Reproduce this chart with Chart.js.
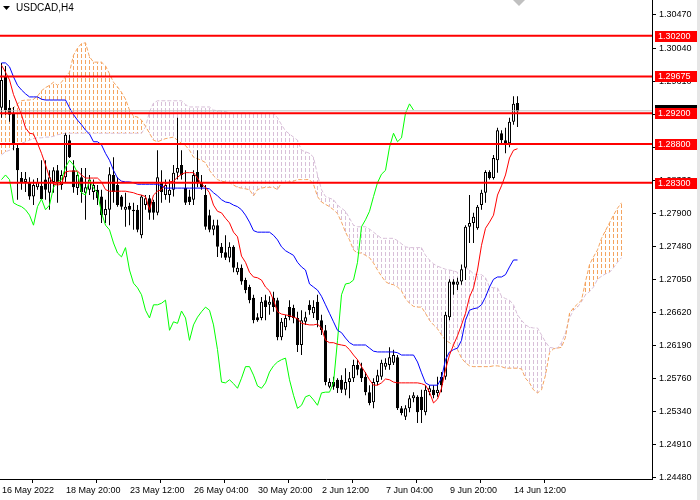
<!DOCTYPE html>
<html>
<head>
<meta charset="utf-8">
<script src="https://cdn.jsdelivr.net/npm/chart.js@4.4.0/dist/chart.umd.min.js"></script>
<style>
  html, body { margin: 0; padding: 0; background: #fff; }
  canvas { display: block; }
</style>
</head>
<body>
<canvas id="chart" width="700" height="500"></canvas>
<script>
const symbolTitle = 'USDCAD,H4';
const dateTicks = ['16 May 2022', '18 May 20:00', '23 May 12:00', '26 May 04:00', '30 May 20:00',
  '2 Jun 12:00', '7 Jun 04:00', '9 Jun 20:00', '14 Jun 12:00'];
const barsPerDateTick = 16;
const yTickLabels = ['1.24480', '1.24910', '1.25340', '1.25760', '1.26190', '1.26620', '1.27050', '1.27480',
  '1.27900', '1.28330', '1.28760', '1.29180', '1.29610', '1.30040', '1.30470'];
const levels = [1.30200, 1.29675, 1.29200, 1.28800, 1.28300];
const bidPrice = 1.2923;

// H4 candles
const open = [
  1.2927,1.2967,1.2927,1.2920,1.2875,1.2836,1.2831,1.2831,1.2812,1.2824,
  1.2826,1.2834,1.2817,1.2831,1.2846,1.2827,1.2837,1.2885,1.2846,1.2823,
  1.2837,1.2817,1.2821,1.2818,1.2821,1.2812,1.2788,1.2795,1.2840,1.2827,
  1.2812,1.2795,1.2800,1.2793,1.2795,1.2762,1.2801,1.2810,1.2805,1.2791,
  1.2831,1.2814,1.2814,1.2821,1.2843,1.2853,1.2823,1.2812,1.2808,1.2844,
  1.2831,1.2814,1.2788,1.2769,1.2775,1.2747,1.2740,1.2733,1.2747,1.2714,
  1.2720,1.2704,1.2695,1.2681,1.2656,1.2655,1.2678,1.2672,1.2681,1.2678,
  1.2630,1.2643,1.2669,1.2668,1.2655,1.2620,1.2650,1.2672,1.2661,1.2676,
  1.2652,1.2639,1.2566,1.2572,1.2575,1.2575,1.2562,1.2572,1.2577,1.2594,
  1.2590,1.2579,1.2559,1.2546,1.2572,1.2579,1.2592,1.2594,1.2597,1.2604,
  1.2538,1.2527,1.2538,1.2551,1.2553,1.2553,1.2533,1.2559,1.2562,1.2558,
  1.2579,1.2579,1.2656,1.2702,1.2698,1.2702,1.2720,1.2773,1.2778,1.2771,
  1.2801,1.2817,1.2844,1.2836,1.2859,1.2894,1.2885,1.2881,1.2909,1.2933
];
const high = [
  1.2985,1.2981,1.2937,1.2928,1.2881,1.2844,1.2844,1.2837,1.2834,1.2836,
  1.2859,1.2859,1.2846,1.2850,1.2853,1.2846,1.2894,1.2892,1.2859,1.2844,
  1.2849,1.2849,1.2840,1.2834,1.2827,1.2821,1.2808,1.2850,1.2863,1.2837,
  1.2814,1.2817,1.2804,1.2804,1.2801,1.2814,1.2814,1.2814,1.2808,1.2872,
  1.2846,1.2834,1.2834,1.2853,1.2914,1.2872,1.2846,1.2821,1.2846,1.2872,
  1.2840,1.2827,1.2795,1.2782,1.2782,1.2752,1.2762,1.2753,1.2749,1.2727,
  1.2724,1.2707,1.2698,1.2685,1.2661,1.2682,1.2685,1.2683,1.2689,1.2681,
  1.2655,1.2659,1.2678,1.2672,1.2663,1.2665,1.2663,1.2678,1.2678,1.2685,
  1.2659,1.2646,1.2577,1.2579,1.2577,1.2581,1.2590,1.2585,1.2601,1.2601,
  1.2597,1.2585,1.2568,1.2577,1.2588,1.2601,1.2603,1.2617,1.2614,1.2607,
  1.2541,1.2542,1.2555,1.2559,1.2555,1.2562,1.2568,1.2568,1.2568,1.2579,
  1.2585,1.2663,1.2705,1.2705,1.2707,1.2724,1.2775,1.2814,1.2791,1.2801,
  1.2821,1.2846,1.2846,1.2866,1.2901,1.2898,1.2901,1.2914,1.2942,1.2942
];
const low = [
  1.2914,1.2918,1.2909,1.2872,1.2808,1.2821,1.2818,1.2808,1.2801,1.2821,
  1.2808,1.2808,1.2795,1.2817,1.2804,1.2821,1.2830,1.2862,1.2817,1.2814,
  1.2804,1.2782,1.2814,1.2808,1.2801,1.2778,1.2778,1.2775,1.2804,1.2799,
  1.2795,1.2773,1.2775,1.2769,1.2766,1.2758,1.2795,1.2782,1.2782,1.2788,
  1.2804,1.2808,1.2804,1.2812,1.2834,1.2834,1.2801,1.2801,1.2801,1.2824,
  1.2821,1.2769,1.2766,1.2762,1.2734,1.2733,1.2730,1.2727,1.2714,1.2711,
  1.2698,1.2687,1.2674,1.2648,1.2650,1.2652,1.2652,1.2659,1.2663,1.2626,
  1.2626,1.2639,1.2652,1.2648,1.2611,1.2607,1.2646,1.2659,1.2655,1.2643,
  1.2633,1.2568,1.2564,1.2562,1.2558,1.2558,1.2555,1.2551,1.2572,1.2581,
  1.2572,1.2555,1.2542,1.2538,1.2568,1.2575,1.2588,1.2588,1.2594,1.2536,
  1.2529,1.2523,1.2533,1.2546,1.2519,1.2519,1.2529,1.2555,1.2551,1.2553,
  1.2559,1.2575,1.2652,1.2685,1.2691,1.2698,1.2704,1.2752,1.2752,1.2769,
  1.2795,1.2804,1.2834,1.2834,1.2843,1.2879,1.2868,1.2876,1.2905,1.2902
];
const close = [
  1.2963,1.2924,1.2918,1.2881,1.2846,1.2831,1.2835,1.2812,1.2827,1.2831,
  1.2809,1.2821,1.2837,1.2846,1.2831,1.2840,1.2892,1.2863,1.2824,1.2840,
  1.2818,1.2824,1.2834,1.2827,1.2810,1.2788,1.2796,1.2841,1.2818,1.2801,
  1.2799,1.2799,1.2795,1.2795,1.2769,1.2812,1.2810,1.2791,1.2791,1.2837,
  1.2818,1.2827,1.2821,1.2843,1.2849,1.2840,1.2804,1.2805,1.2840,1.2830,
  1.2824,1.2773,1.2769,1.2775,1.2747,1.2739,1.2733,1.2747,1.2720,1.2720,
  1.2702,1.2691,1.2678,1.2652,1.2652,1.2676,1.2669,1.2676,1.2669,1.2630,
  1.2650,1.2655,1.2656,1.2655,1.2620,1.2652,1.2656,1.2665,1.2669,1.2652,
  1.2639,1.2572,1.2572,1.2566,1.2564,1.2562,1.2572,1.2577,1.2594,1.2588,
  1.2577,1.2559,1.2545,1.2572,1.2581,1.2597,1.2597,1.2604,1.2607,1.2538,
  1.2532,1.2538,1.2551,1.2555,1.2533,1.2536,1.2562,1.2564,1.2555,1.2562,
  1.2568,1.2659,1.2702,1.2698,1.2702,1.2718,1.2773,1.2778,1.2786,1.2799,
  1.2817,1.2844,1.2836,1.2862,1.2898,1.2885,1.2881,1.2909,1.2932,1.2922
];

// Ichimoku lines
const tenkan = [
  1.2982,1.2973,1.2963,1.2944,1.2931,1.2918,1.2901,1.2894,1.2893,1.2881,
  1.2868,1.2853,1.2837,1.2828,1.2827,1.2828,1.2844,1.2845,1.2845,1.2845,
  1.2840,1.2836,1.2836,1.2836,1.2836,1.2831,1.2821,1.2819,1.2819,1.2819,
  1.2819,1.2819,1.2818,1.2817,1.2815,1.2814,1.2812,1.2795,1.2814,1.2819,
  1.2821,1.2828,1.2831,1.2832,1.2837,1.2841,1.2843,1.2843,1.2843,1.2836,
  1.2828,1.2824,1.2817,1.2801,1.2793,1.2791,1.2784,1.2778,1.2766,1.2760,
  1.2735,1.2727,1.2714,1.2708,1.2707,1.2704,1.2695,1.2690,1.2678,1.2663,
  1.2660,1.2659,1.2658,1.2656,1.2654,1.2648,1.2647,1.2646,1.2646,1.2647,
  1.2642,1.2626,1.2623,1.2623,1.2621,1.2620,1.2619,1.2614,1.2607,1.2601,
  1.2592,1.2584,1.2575,1.2568,1.2568,1.2571,1.2576,1.2575,1.2572,1.2571,
  1.2571,1.2571,1.2571,1.2571,1.2571,1.2570,1.2568,1.2559,1.2545,1.2550,
  1.2564,1.2588,1.2607,1.2620,1.2632,1.2646,1.2661,1.2682,1.2694,1.2717,
  1.2749,1.2771,1.2779,1.2788,1.2814,1.2826,1.2840,1.2862,1.2872,1.2874
];
const kijun = [
  1.2985,1.2985,1.2980,1.2967,1.2956,1.2950,1.2945,1.2941,1.2941,1.2941,
  1.2938,1.2937,1.2937,1.2937,1.2937,1.2937,1.2937,1.2927,1.2918,1.2911,
  1.2905,1.2898,1.2893,1.2883,1.2883,1.2879,1.2868,1.2859,1.2846,1.2836,
  1.2832,1.2831,1.2831,1.2830,1.2828,1.2828,1.2828,1.2828,1.2828,1.2828,
  1.2826,1.2823,1.2823,1.2823,1.2823,1.2823,1.2823,1.2823,1.2823,1.2823,
  1.2823,1.2823,1.2822,1.2817,1.2813,1.2808,1.2805,1.2804,1.2801,1.2799,
  1.2795,1.2788,1.2779,1.2768,1.2766,1.2766,1.2766,1.2766,1.2762,1.2756,
  1.2747,1.2742,1.2739,1.2736,1.2727,1.2721,1.2717,1.2699,1.2695,1.2691,
  1.2683,1.2672,1.2661,1.2650,1.2639,1.2636,1.2629,1.2623,1.2620,1.2620,
  1.2620,1.2620,1.2616,1.2612,1.2611,1.2611,1.2611,1.2611,1.2611,1.2610,
  1.2607,1.2607,1.2607,1.2607,1.2598,1.2584,1.2571,1.2568,1.2568,1.2568,
  1.2577,1.2601,1.2611,1.2614,1.2616,1.2626,1.2652,1.2665,1.2667,1.2668,
  1.2672,1.2682,1.2695,1.2705,1.2708,1.2708,1.2711,1.2721,1.2730,1.2730
];
const chikou = [
  1.2834,1.2840,1.2834,1.2804,1.2801,1.2799,1.2795,1.2788,1.2775,1.2799,
  1.2809,1.2795,1.2801,1.2824,1.2831,1.2834,1.2850,1.2859,1.2853,1.2843,
  1.2817,1.2814,1.2834,1.2823,1.2817,1.2791,1.2775,1.2769,1.2752,1.2739,
  1.2734,1.2746,1.2717,1.2700,1.2694,1.2685,1.2665,1.2655,1.2672,1.2672,
  1.2674,1.2678,1.2639,1.2650,1.2648,1.2664,1.2655,1.2626,1.2646,1.2656,
  1.2663,1.2669,1.2665,1.2646,1.2614,1.2572,1.2571,1.2575,1.2570,1.2564,
  1.2577,1.2592,1.2592,1.2581,1.2567,1.2564,1.2571,1.2585,1.2593,1.2598,
  1.2601,1.2603,1.2575,1.2555,1.2538,1.2542,1.2553,1.2555,1.2549,1.2542,
  1.2558,1.2559,1.2559,1.2571,1.2626,1.2685,1.2699,1.2700,1.2704,1.2727,
  1.2773,1.2782,1.2793,1.2812,1.2830,1.2841,1.2846,1.2876,1.2894,1.2883,
  1.2888,1.2920,1.2932,1.2924
];
const spanA = [
  1.2918,1.2922,1.2924,1.2927,1.2932,1.2936,1.2937,1.2937,1.2938,1.2942,
  1.2949,1.2953,1.2956,1.2960,1.2956,1.2960,1.2967,1.2973,1.2995,1.3004,
  1.3010,1.3011,1.2993,1.2986,1.2986,1.2986,1.2981,1.2971,1.2960,1.2954,
  1.2947,1.2938,1.2924,1.2916,1.2915,1.2911,1.2903,1.2894,1.2885,1.2883,
  1.2885,1.2887,1.2888,1.2889,1.2885,1.2881,1.2878,1.2872,1.2863,1.2861,
  1.2859,1.2856,1.2846,1.2839,1.2834,1.2832,1.2831,1.2830,1.2827,1.2824,
  1.2823,1.2822,1.2821,1.2813,1.2821,1.2823,1.2824,1.2824,1.2824,1.2821,
  1.2830,1.2830,1.2831,1.2832,1.2834,1.2834,1.2834,1.2834,1.2828,1.2812,
  1.2805,1.2802,1.2799,1.2795,1.2790,1.2779,1.2766,1.2756,1.2743,1.2739,
  1.2739,1.2736,1.2733,1.2726,1.2717,1.2709,1.2702,1.2699,1.2698,1.2695,
  1.2690,1.2680,1.2674,1.2670,1.2669,1.2669,1.2661,1.2652,1.2646,1.2641,
  1.2633,1.2626,1.2623,1.2619,1.2614,1.2603,1.2597,1.2593,1.2592,1.2592,
  1.2592,1.2592,1.2592,1.2593,1.2593,1.2592,1.2590,1.2590,1.2590,1.2590,
  1.2589,1.2577,1.2571,1.2562,1.2558,1.2562,1.2581,1.2610,1.2615,1.2616,
  1.2617,1.2630,1.2661,1.2668,1.2673,1.2678,1.2702,1.2724,1.2734,1.2743,
  1.2758,1.2768,1.2778,1.2788,1.2797,1.2804
];
const spanB = [
  1.2866,1.2870,1.2872,1.2875,1.2879,1.2881,1.2883,1.2885,1.2887,1.2888,
  1.2888,1.2889,1.2889,1.2890,1.2892,1.2893,1.2894,1.2894,1.2894,1.2894,
  1.2894,1.2894,1.2894,1.2894,1.2894,1.2894,1.2894,1.2894,1.2894,1.2894,
  1.2894,1.2894,1.2894,1.2894,1.2894,1.2894,1.2902,1.2922,1.2933,1.2936,
  1.2936,1.2936,1.2936,1.2936,1.2936,1.2936,1.2931,1.2928,1.2928,1.2928,
  1.2928,1.2928,1.2928,1.2924,1.2923,1.2923,1.2922,1.2920,1.2920,1.2920,
  1.2920,1.2920,1.2920,1.2920,1.2920,1.2920,1.2920,1.2920,1.2920,1.2914,
  1.2905,1.2897,1.2893,1.2889,1.2885,1.2872,1.2870,1.2868,1.2863,1.2840,
  1.2821,1.2812,1.2810,1.2808,1.2801,1.2797,1.2793,1.2784,1.2775,1.2773,
  1.2773,1.2773,1.2770,1.2766,1.2762,1.2758,1.2758,1.2758,1.2758,1.2755,
  1.2751,1.2747,1.2746,1.2746,1.2746,1.2746,1.2736,1.2730,1.2725,1.2722,
  1.2720,1.2718,1.2717,1.2716,1.2714,1.2716,1.2720,1.2717,1.2712,1.2711,
  1.2711,1.2707,1.2695,1.2694,1.2694,1.2683,1.2680,1.2678,1.2672,1.2659,
  1.2652,1.2646,1.2643,1.2642,1.2642,1.2633,1.2624,1.2617,1.2616,1.2616,
  1.2623,1.2636,1.2655,1.2665,1.2669,1.2676,1.2685,1.2689,1.2695,1.2705,
  1.2709,1.2712,1.2714,1.2720,1.2727,1.2733
];

const totalBars = 163;
const xMin = -0.375;
const xMax = xMin + totalBars;
const cloudUpColor = '#f4a460';
const cloudDownColor = '#d8bfd8';

function points(arr) {
  return arr.map((v, i) => ({ x: i, y: v }));
}

// dashed vertical hatch anchored to the canvas, like the MT4 cloud histogram
function hatch(color) {
  const c = document.createElement('canvas');
  c.width = 1;
  c.height = 6;
  const g = c.getContext('2d');
  g.fillStyle = color;
  g.fillRect(0, 0, 1, 4);
  return g.createPattern(c, 'repeat');
}

const bodies = open.map((o, i) => ({ x: i, y: [o, close[i]] }));
const wicks = low.map((l, i) => ({ x: i, y: [l, high[i]] }));
const bodyColors = open.map((o, i) => close[i] >= o ? '#ffffff' : '#000000');

const cloudUp = [];
const cloudDown = [];
spanA.forEach((a, i) => {
  const b = spanB[i];
  (a >= b ? cloudUp : cloudDown).push({ x: i, y: [a, b] });
});

const fontFamily = '"Liberation Sans", Arial, sans-serif';

const levelSets = levels.map(l => ({
  type: 'line',
  data: [{ x: xMin, y: l }, { x: xMax, y: l }],
  borderColor: '#ff0000',
  borderWidth: 2,
  order: 0
}));

const overlay = {
  id: 'overlay',
  afterDraw(chart) {
    const { ctx, scales: { x, y } } = chart;
    ctx.save();
    ctx.fillStyle = '#000';
    ctx.beginPath();
    ctx.moveTo(3, 6); ctx.lineTo(10, 6); ctx.lineTo(6.5, 10); ctx.closePath();
    ctx.fill();
    ctx.font = '10px ' + fontFamily;
    ctx.textBaseline = 'middle';
    ctx.fillText(symbolTitle, 16, 8);

    // chart shift marker above the last bar
    const sx = Math.round(x.getPixelForValue(open.length - 1)) + 1;
    ctx.fillStyle = '#c0c0c0';
    ctx.beginPath();
    ctx.moveTo(sx - 6, 0); ctx.lineTo(sx + 6, 0); ctx.lineTo(sx, 6); ctx.closePath();
    ctx.fill();

    // price labels on the right axis
    const by = Math.round(y.getPixelForValue(bidPrice));
    ctx.fillStyle = '#000';
    ctx.fillRect(655, by - 6, 42, 11);
    ctx.font = '9px ' + fontFamily;
    levels.forEach(l => {
      const py = Math.round(y.getPixelForValue(l));
      ctx.fillStyle = '#ff0000';
      ctx.fillRect(655, py - 5, 42, 11);
      ctx.fillStyle = '#ffffff';
      ctx.fillText(l.toFixed(5), 658, py + 0.5);
    });

    ctx.fillStyle = '#e6e6e6';
    ctx.fillRect(697, 0, 3, 500);
    ctx.restore();
  }
};

const ctx = document.getElementById('chart').getContext('2d');
new Chart(ctx, {
  type: 'bar',
  data: {
    datasets: [
      ...levelSets,
      { type: 'line', data: [{ x: xMin, y: bidPrice }, { x: xMax, y: bidPrice }], borderColor: '#c0c0c0', order: 1 },
      { type: 'line', data: points(tenkan), borderColor: '#ff0000', order: 2 },
      { type: 'line', data: points(kijun), borderColor: '#0000ff', order: 2 },
      { type: 'line', data: points(chikou), borderColor: '#00ff00', order: 2 },
      { type: 'bar', data: bodies, backgroundColor: bodyColors, borderColor: '#000', borderWidth: 1,
        borderSkipped: false, barThickness: 3, grouped: false, inflateAmount: 0, order: 3 },
      { type: 'bar', data: wicks, backgroundColor: '#000', borderWidth: 0,
        barThickness: 1, grouped: false, inflateAmount: 0, order: 4 },
      { type: 'line', data: points(spanA), borderColor: cloudUpColor, borderDash: [4, 2], order: 5 },
      { type: 'line', data: points(spanB), borderColor: cloudDownColor, borderDash: [4, 2], order: 5 },
      { type: 'bar', data: cloudUp, backgroundColor: hatch(cloudUpColor), borderWidth: 0,
        barThickness: 1, grouped: false, inflateAmount: 0, order: 6 },
      { type: 'bar', data: cloudDown, backgroundColor: hatch(cloudDownColor), borderWidth: 0,
        barThickness: 1, grouped: false, inflateAmount: 0, order: 6 }
    ]
  },
  options: {
    responsive: false,
    animation: false,
    devicePixelRatio: 1,
    layout: { padding: 0, autoPadding: false },
    elements: {
      point: { radius: 0, hoverRadius: 0 },
      line: { borderWidth: 1, tension: 0, fill: false }
    },
    plugins: { legend: { display: false }, tooltip: { enabled: false } },
    events: [],
    scales: {
      x: {
        type: 'linear',
        min: xMin,
        max: xMax,
        offset: false,
        afterBuildTicks: s => {
          s.ticks = dateTicks.map((d, k) => ({ value: xMin + k * barsPerDateTick }));
        },
        afterFit: s => {
          s.height = 21;
          s.paddingLeft = 0;
          s.paddingRight = 0;
        },
        ticks: {
          autoSkip: false,
          maxRotation: 0,
          minRotation: 0,
          align: 'start',
          padding: 2,
          labelOffset: 2,
          color: '#000',
          font: { family: fontFamily, size: 9 },
          callback: (v, i) => dateTicks[i]
        },
        grid: { display: true, drawOnChartArea: false, drawTicks: true, tickLength: 4, color: '#000' },
        border: { display: true, color: '#000' }
      },
      y: {
        position: 'right',
        min: 1.24466,
        max: 1.30664,
        afterBuildTicks: s => {
          const step = (1.30470 - 1.24480) / (yTickLabels.length - 1);
          s.ticks = yTickLabels.map((t, k) => ({ value: 1.24480 + k * step }));
        },
        afterFit: s => {
          s.width = 48;
          s.paddingTop = 0;
          s.paddingBottom = 0;
        },
        ticks: {
          autoSkip: false,
          padding: 3,
          color: '#000',
          font: { family: fontFamily, size: 9 },
          callback: (v, i) => yTickLabels[i]
        },
        grid: { display: true, drawOnChartArea: false, drawTicks: true, tickLength: 4, color: '#000' },
        border: { display: true, color: '#000' }
      }
    }
  },
  plugins: [overlay]
});
</script>
</body>
</html>
